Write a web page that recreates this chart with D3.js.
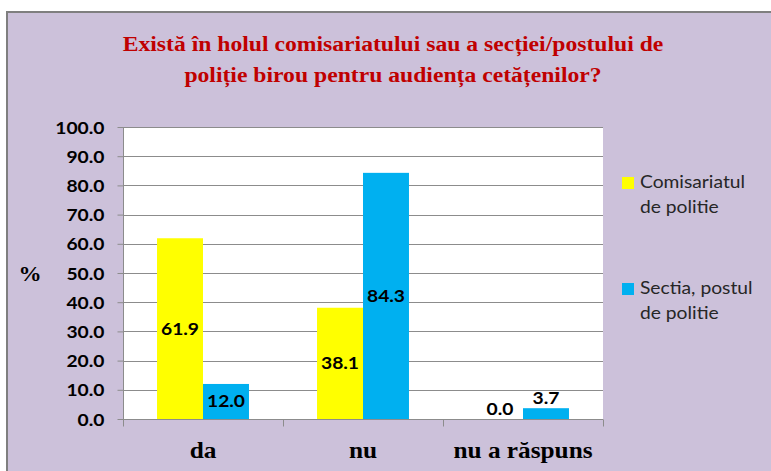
<!DOCTYPE html>
<html><head><meta charset="utf-8">
<script src="https://cdn.jsdelivr.net/npm/d3@7"></script>
<style>html,body{margin:0;padding:0;background:#fff;}svg{display:block;}</style>
</head><body>
<script>
const categories = ["da", "nu", "nu a răspuns"];
const seriesNames = ["Comisariatul de politie", "Sectia, postul de politie"];
const comisariat = [61.9, 38.1, 0.0];
const sectia = [12.0, 84.3, 3.7];
const yTicks = [0, 10, 20, 30, 40, 50, 60, 70, 80, 90, 100];
const titleLines = ["Există în holul comisariatului sau a secției/postului de", "poliție birou pentru audiența cetățenilor?"];
const legendLines = [["Comisariatul", "de politie"], ["Sectia, postul", "de politie"]];
const colors = ["#FFFF00", "#00B0F0"];

const W = 771, H = 471;
const SX = 1.1; // horizontal stretch of the original picture
const svg = d3.select("body").append("svg").attr("width", W).attr("height", H);

function stretch(sel) {
  sel.each(function () {
    const t = d3.select(this);
    const x = +t.attr("x") || 0, y = +t.attr("y") || 0;
    t.attr("x", 0).attr("y", 0).attr("transform", `translate(${x},${y}) scale(${SX},1)`);
  });
  return sel;
}

// frame
svg.append("rect").attr("x", 7).attr("y", 12).attr("width", W + 10).attr("height", H + 10)
  .attr("fill", "#CCC1DA").attr("stroke", "#7F7F7F").attr("stroke-width", 2);

// title
svg.append("g").selectAll("text").data(titleLines).join("text")
  .attr("x", 393).attr("y", (d, i) => 51 + i * 30.5)
  .attr("text-anchor", "middle")
  .attr("font-family", "Liberation Serif, Times New Roman, serif")
  .attr("font-weight", "bold").attr("font-size", 21.5)
  .attr("fill", "#C00000").text(d => d).call(stretch);

const m = {left: 123, top: 127, right: 603, bottom: 419};
const x0 = d3.scaleBand().domain(categories).range([m.left, m.right]).paddingInner(0).paddingOuter(0);
const x1 = d3.scaleBand().domain([0, 1]).range([0, x0.bandwidth()]).paddingInner(0).paddingOuter(0.74);
const y = d3.scaleLinear().domain([0, 100]).range([m.bottom, m.top]);

// plot area
svg.append("rect").attr("x", m.left).attr("y", m.top).attr("width", m.right - m.left).attr("height", m.bottom - m.top).attr("fill", "#fff");

// gridlines
svg.append("g").selectAll("line").data(yTicks.filter(t => t > 0)).join("line")
  .attr("x1", m.left).attr("x2", m.right)
  .attr("y1", d => Math.round(y(d)) + 0.5).attr("y2", d => Math.round(y(d)) + 0.5)
  .attr("stroke", "#8C8C8C").attr("stroke-width", 1);

// bars
const seriesData = [comisariat, sectia];
const g = svg.append("g");
categories.forEach((c, ci) => {
  seriesData.forEach((s, si) => {
    const v = s[ci];
    const bx = x0(c) + x1(si);
    g.append("rect").attr("x", bx).attr("y", y(v)).attr("width", x1.bandwidth()).attr("height", y(0) - y(v)).attr("fill", colors[si]);
    const h = y(0) - y(v);
    const ly = h > 20 ? (y(v) + y(0)) / 2 + 6 : y(v) - 4;
    g.append("text").attr("x", bx + x1.bandwidth() / 2).attr("y", ly)
      .attr("text-anchor", "middle")
      .attr("font-family", "Lato, Open Sans, sans-serif").attr("font-weight", "bold").attr("font-size", 17.5)
      .attr("fill", "#000").text(d3.format(".1f")(v)).call(stretch);
  });
});

// y axis
const yAxis = d3.axisLeft(y).tickValues(yTicks).tickFormat(d3.format(".1f")).tickSize(6).tickPadding(13);
const ya = svg.append("g").attr("transform", `translate(${m.left + 0.5},0)`).call(yAxis);
ya.select(".domain").attr("stroke", "#8C8C8C").attr("d", `M0,${m.top}V${m.bottom}`);
ya.selectAll(".tick line").attr("stroke", "#8C8C8C");
ya.selectAll(".tick text").attr("font-family", "Lato, Open Sans, sans-serif").attr("font-weight", "bold").attr("font-size", 17.5).attr("fill", "#000")
  .attr("dy", null).attr("y", 6).call(stretch);

// x axis
const xa = svg.append("g").attr("transform", `translate(0,${m.bottom + 0.5})`);
xa.append("line").attr("x1", m.left).attr("x2", m.right).attr("stroke", "#8C8C8C");
const bounds = categories.map(c => x0(c)).concat([m.right]);
xa.selectAll("line.tk").data(bounds).join("line").attr("class", "tk")
  .attr("x1", d => Math.round(d) + 0.5).attr("x2", d => Math.round(d) + 0.5).attr("y1", 0).attr("y2", 7).attr("stroke", "#8C8C8C");
xa.selectAll("text").data(categories).join("text")
  .attr("x", d => x0(d) + x0.bandwidth() / 2).attr("y", 38)
  .attr("text-anchor", "middle")
  .attr("font-family", "Liberation Serif, Times New Roman, serif").attr("font-weight", "bold").attr("font-size", 23)
  .attr("fill", "#000").text(d => d).call(stretch);

// y label
svg.append("text").attr("x", 30).attr("y", 281).attr("text-anchor", "middle")
  .attr("font-family", "Liberation Serif, Times New Roman, serif").attr("font-weight", "bold").attr("font-size", 21)
  .attr("fill", "#000").text("%").call(stretch);

// legend
const lg = svg.append("g");
legendLines.forEach((lines, i) => {
  const top = 177 + i * 106;
  lg.append("rect").attr("x", 622).attr("y", top).attr("width", 12).attr("height", 12).attr("fill", colors[i]);
  lines.forEach((t, j) => {
    lg.append("text").attr("x", 640).attr("y", top + 11 + j * 25)
      .attr("font-family", "Lato, Open Sans, sans-serif").attr("font-size", 17.5)
      .attr("fill", "#262626").text(t).call(stretch);
  });
});
</script>
</body></html>
